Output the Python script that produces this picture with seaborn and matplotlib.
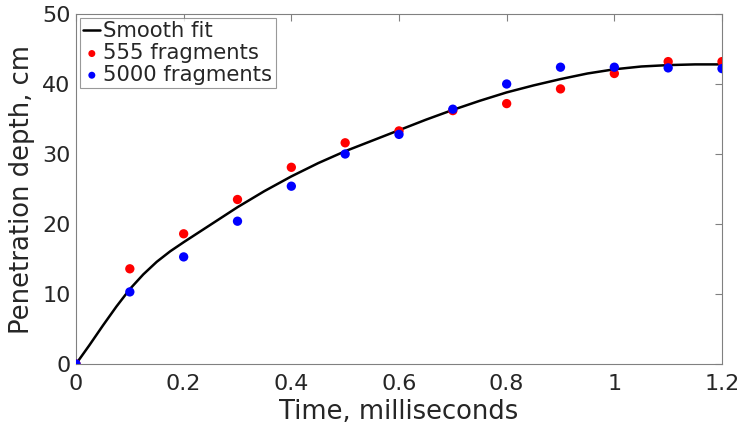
import numpy as np
import pandas as pd
import matplotlib
matplotlib.use("Agg")
import matplotlib.pyplot as plt
import seaborn as sns

# Data
time_pts = [0.0, 0.1, 0.2, 0.3, 0.4, 0.5, 0.6, 0.7, 0.8, 0.9, 1.0, 1.1, 1.2]
depth_555 = [0.0, 13.6, 18.6, 23.5, 28.1, 31.6, 33.3, 36.2, 37.2, 39.3, 41.5, 43.2, 43.2]
depth_5000 = [0.0, 10.3, 15.3, 20.4, 25.4, 30.0, 32.8, 36.4, 40.0, 42.4, 42.4, 42.3, 42.2]

fit_time = [0.0, 0.025, 0.05, 0.075, 0.1, 0.125, 0.15, 0.175, 0.2, 0.25, 0.3, 0.35, 0.4,
            0.45, 0.5, 0.55, 0.6, 0.65, 0.7, 0.75, 0.8, 0.85, 0.9, 0.95, 1.0, 1.05,
            1.1, 1.15, 1.2]
fit_depth = [0.0, 2.7, 5.5, 8.2, 10.7, 12.8, 14.6, 16.1, 17.4, 19.9, 22.4, 24.7, 26.8,
             28.7, 30.4, 31.9, 33.4, 34.9, 36.3, 37.6, 38.8, 39.8, 40.7, 41.5, 42.1, 42.5,
             42.7, 42.8, 42.8]

x_ticks = [0, 0.2, 0.4, 0.6, 0.8, 1.0, 1.2]
x_ticklabels = ["0", "0.2", "0.4", "0.6", "0.8", "1", "1.2"]
y_ticks = [0, 10, 20, 30, 40, 50]

sns.set_style("white")
plt.rcParams['font.family'] = ['DejaVu Sans']

fig = plt.figure(figsize=(7.41, 4.29), dpi=100)
ax = fig.add_axes([76/741, 1-364/429, (722-76)/741, (364-14)/429])

fit_df = pd.DataFrame({"t": fit_time, "d": fit_depth})
sns.lineplot(data=fit_df, x="t", y="d", color="black", lw=1.8, ax=ax, label="Smooth fit", sort=False)
sns.scatterplot(x=time_pts, y=depth_555, color="red", s=45, edgecolor="none", ax=ax,
                label="555 fragments", zorder=3)
sns.scatterplot(x=time_pts, y=depth_5000, color="blue", s=45, edgecolor="none", ax=ax,
                label="5000 fragments", zorder=4)

ax.set_xlim(0, 1.2)
ax.set_ylim(0, 50)
ax.set_xticks(x_ticks)
ax.set_xticklabels(x_ticklabels)
ax.set_yticks(y_ticks)
ax.tick_params(direction="in", length=5, color="#808080", labelsize=16, labelcolor="#262626",
               top=True, right=True, width=0.8)
ax.tick_params(axis="x", pad=7)
ax.tick_params(axis="y", pad=4)
for sp in ax.spines.values():
    sp.set_color("#808080")
    sp.set_linewidth(0.8)
ax.set_xlabel("Time, milliseconds", fontsize=18.6, color="#262626", labelpad=4)
ax.set_ylabel("Penetration depth, cm", fontsize=18.6, color="#262626", labelpad=5)

leg = ax.legend(loc="upper left", fontsize=15.2, frameon=True, fancybox=False,
                borderpad=0.15, labelspacing=0.08, handlelength=0.8, handletextpad=0.15,
                borderaxespad=0.2, markerscale=0.75)
leg.get_frame().set_edgecolor("#808080")
leg.get_frame().set_linewidth(0.8)

fig.savefig("out.png", dpi=100)
